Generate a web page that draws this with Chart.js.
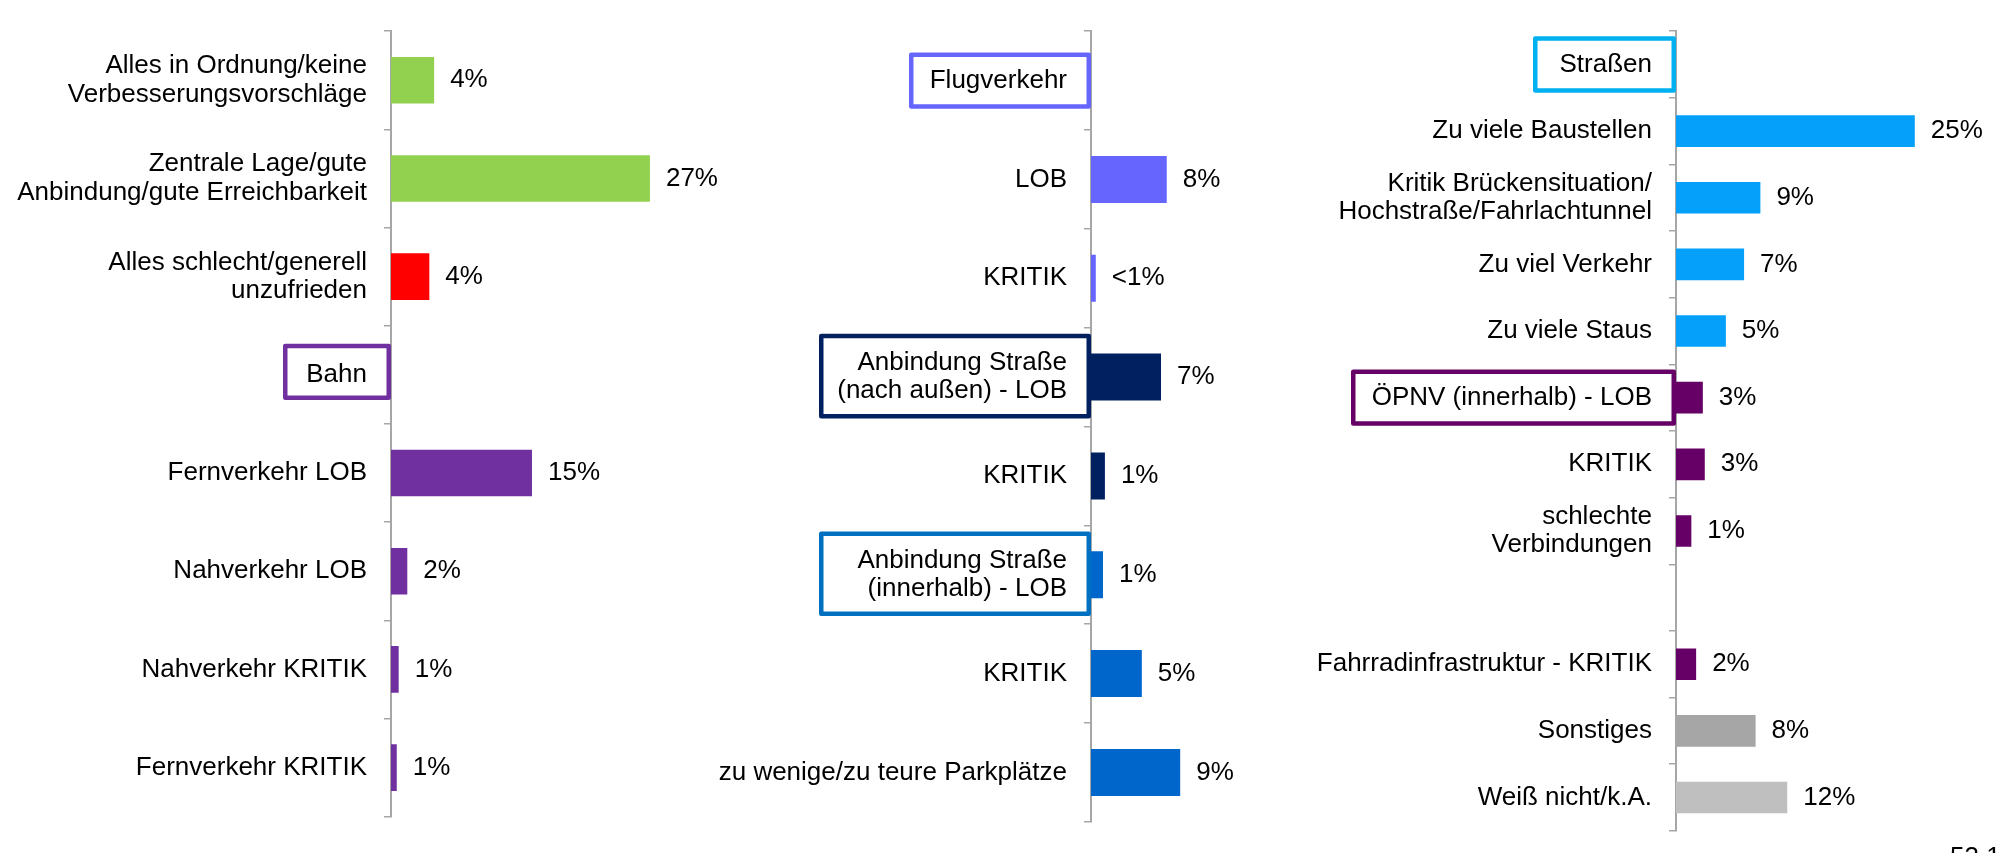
<!DOCTYPE html>
<html lang="de">
<head>
<meta charset="utf-8">
<script src="https://cdn.jsdelivr.net/npm/chart.js@4.4.1/dist/chart.umd.min.js"></script>
<style>
  html, body { margin: 0; padding: 0; background: #fff; overflow: hidden; }
  #wrap { position: relative; width: 2005px; height: 853px; overflow: hidden; }
  canvas { position: absolute; top: 0; }
  #page { position: absolute; left: 1950px; top: 843px; font: 26px/26px 'Liberation Sans', Arial, sans-serif; color: #000; }
</style>
</head>
<body>
<div id="wrap">
  <canvas id="c1" width="720" height="862" style="left:0px"></canvas>
  <canvas id="c2" width="720" height="853" style="left:690px"></canvas>
  <canvas id="c3" width="705" height="862" style="left:1300px"></canvas>
  <div id="page">53 1</div>
</div>
<script>
// Panel 1: general / Bahn
const generalLabels = [
    ['Alles in Ordnung/keine', 'Verbesserungsvorschläge'],
    ['Zentrale Lage/gute', 'Anbindung/gute Erreichbarkeit'],
    ['Alles schlecht/generell', 'unzufrieden'],
    'Bahn',
    'Fernverkehr LOB',
    'Nahverkehr LOB',
    'Nahverkehr KRITIK',
    'Fernverkehr KRITIK'
];
const generalValues = [4.5, 27, 4, null, 14.7, 1.7, 0.8, 0.6];
const generalText = ['4%', '27%', '4%', '', '15%', '2%', '1%', '1%'];

// Panel 2: Flugverkehr / Anbindung Straße
const flugLabels = [
    'Flugverkehr',
    'LOB',
    'KRITIK',
    ['Anbindung Straße', '(nach außen) - LOB'],
    'KRITIK',
    ['Anbindung Straße', '(innerhalb) - LOB'],
    'KRITIK',
    'zu wenige/zu teure Parkplätze'
];
const flugValues = [null, 7.9, 0.5, 7.3, 1.45, 1.25, 5.3, 9.3];
const flugText = ['', '8%', '<1%', '7%', '1%', '1%', '5%', '9%'];

// Panel 3: Straßen / ÖPNV / Sonstiges
const strassenLabels = [
    'Straßen',
    'Zu viele Baustellen',
    ['Kritik Brückensituation/', 'Hochstraße/Fahrlachtunnel'],
    'Zu viel Verkehr',
    'Zu viele Staus',
    'ÖPNV (innerhalb) - LOB',
    'KRITIK',
    ['schlechte', 'Verbindungen'],
    '',
    'Fahrradinfrastruktur - KRITIK',
    'Sonstiges',
    'Weiß nicht/k.A.'
];
const strassenValues = [null, 24.9, 8.8, 7.1, 5.2, 2.8, 3.0, 1.6, null, 2.1, 8.3, 11.6];
const strassenText = ['', '25%', '9%', '7%', '5%', '3%', '3%', '1%', '', '2%', '8%', '12%'];

// styling
const FONT = "'Liberation Sans', Arial, sans-serif";
const FONT_SIZE = 26;
const AXIS_GREY = '#A6A6A6';
const X_MAX = 30;
const PX_PER_PCT = 9.59;

const generalColors = ['#92D050', '#92D050', '#FF0000', '#7030A0', '#7030A0', '#7030A0', '#7030A0', '#7030A0'];
const flugColors = ['#6666FF', '#6666FF', '#6666FF', '#002060', '#002060', '#0066CC', '#0066CC', '#0066CC'];
const strassenColors = ['#05A0FA', '#05A0FA', '#05A0FA', '#05A0FA', '#05A0FA', '#660066', '#660066', '#660066',
    '#660066', '#660066', '#A6A6A6', '#BFBFBF'];

// boxes drawn around group headers: category index, border colour, box width
const generalBoxes = [{ index: 3, color: '#7030A0', width: 108, dy: -3 }];
const flugBoxes = [
    { index: 0, color: '#6666FF', width: 182, dy: 0 },
    { index: 3, color: '#002060', width: 272, dy: -1 },
    { index: 5, color: '#0070C0', width: 272, dy: -1 }
];
const strassenBoxes = [
    { index: 0, color: '#00B0F0', width: 143, dy: 0 },
    { index: 5, color: '#660066', width: 325, dy: 0 }
];

const makePanel = (cfg) => {
    const canvas = document.getElementById(cfg.id);
    const axisWidth = cfg.axisX - cfg.left;
    const padRight = canvas.width - axisWidth - X_MAX * PX_PER_PCT;

    // percent labels next to each bar
    const valueLabelPlugin = {
        id: 'valueLabels',
        afterDatasetsDraw(chart) {
            const ctx = chart.ctx;
            const meta = chart.getDatasetMeta(0);
            ctx.save();
            ctx.font = FONT_SIZE + 'px ' + FONT;
            ctx.fillStyle = '#000';
            ctx.textAlign = 'left';
            ctx.textBaseline = 'middle';
            meta.data.forEach((bar, i) => {
                if (!cfg.text[i]) return;
                ctx.fillText(cfg.text[i], bar.x + 16, bar.y);
            });
            ctx.restore();
        }
    };

    // framed group headers
    const boxPlugin = {
        id: 'headerBoxes',
        afterDraw(chart) {
            const ctx = chart.ctx;
            const yScale = chart.scales.y;
            const right = chart.chartArea.left;
            const lw = 4.5;
            ctx.save();
            ctx.lineWidth = lw;
            ctx.lineJoin = 'round';
            cfg.boxes.forEach(box => {
                const lbl = cfg.labels[box.index];
                const lines = Array.isArray(lbl) ? lbl.length : 1;
                const h = 28 + lines * 28.3;
                const cy = yScale.getPixelForTick(box.index) + box.dy;
                ctx.strokeStyle = box.color;
                ctx.strokeRect(right - box.width + lw / 2, cy - h / 2 + lw / 2, box.width - lw, h - lw);
            });
            ctx.restore();
        }
    };

    return new Chart(canvas, {
        type: 'bar',
        data: {
            labels: cfg.labels,
            datasets: [{
                data: cfg.values,
                backgroundColor: cfg.colors,
                borderWidth: 0,
                barPercentage: 0.475,
                categoryPercentage: 1.0
            }]
        },
        options: {
            indexAxis: 'y',
            responsive: false,
            animation: false,
            layout: { padding: { top: cfg.top, bottom: cfg.bottom, left: 0, right: padRight } },
            plugins: { legend: { display: false }, tooltip: { enabled: false } },
            scales: {
                x: { display: false, min: 0, max: X_MAX },
                y: {
                    afterFit: (scale) => { scale.width = axisWidth; },
                    border: { display: true, color: AXIS_GREY, width: 2 },
                    grid: {
                        display: true,
                        drawOnChartArea: false,
                        drawTicks: true,
                        tickLength: 7,
                        color: AXIS_GREY,
                        lineWidth: 1.5,
                        offset: true
                    },
                    ticks: {
                        autoSkip: false,
                        color: '#000',
                        padding: 17,
                        font: { family: FONT, size: FONT_SIZE, lineHeight: 1.09 }
                    }
                }
            }
        },
        plugins: [valueLabelPlugin, boxPlugin]
    });
};

makePanel({ id: 'c1', left: 0, axisX: 391, top: 8, bottom: 8,
    labels: generalLabels, values: generalValues, text: generalText, colors: generalColors, boxes: generalBoxes });
makePanel({ id: 'c2', left: 690, axisX: 1091, top: 7, bottom: 8,
    labels: flugLabels, values: flugValues, text: flugText, colors: flugColors, boxes: flugBoxes });
makePanel({ id: 'c3', left: 1300, axisX: 1676, top: 8, bottom: 9,
    labels: strassenLabels, values: strassenValues, text: strassenText, colors: strassenColors, boxes: strassenBoxes });
</script>
</body>
</html>
